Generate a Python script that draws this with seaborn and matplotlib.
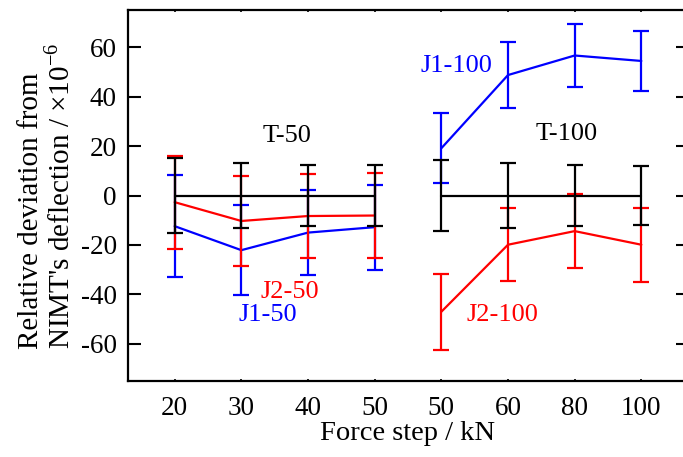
import matplotlib
matplotlib.use("Agg")
import matplotlib.pyplot as plt
import seaborn as sns
import numpy as np
import pandas as pd

# categories on the x axis (two groups of force steps)
steps = ["20", "30", "40", "50", "50", "60", "80", "100"]
group = ["50", "50", "50", "50", "100", "100", "100", "100"]

# series values (relative deviation, x10^-6) and their uncertainties
t_val = [0, 0, 0, 0, 0, 0, 0, 0]
t_err = [15.0, 13.0, 12.3, 12.3, 14.3, 13.2, 12.2, 12.0]
j1_val = [-12.4, -22.1, -15.0, -12.8, 19.1, 48.7, 56.6, 54.4]
j1_err = [20.5, 18.3, 17.2, 17.2, 14.1, 13.3, 12.6, 12.3]
j2_val = [-2.7, -10.3, -8.3, -8.1, -47.0, -19.9, -14.4, -19.9]
j2_err = [18.8, 18.2, 16.9, 17.0, 15.3, 14.8, 15.1, 15.0]

sns.set_style("ticks")
plt.rcParams['font.family'] = ['Liberation Serif', 'DejaVu Serif']
plt.rcParams['mathtext.fontset'] = 'custom'
plt.rcParams['mathtext.rm'] = 'Liberation Serif'
for k in ['text.color', 'axes.labelcolor', 'xtick.color', 'ytick.color', 'axes.edgecolor']:
    plt.rcParams[k] = 'black'

rows = []
for name, vals, errs in [("J1", j1_val, j1_err), ("J2", j2_val, j2_err), ("T", t_val, t_err)]:
    for i, (v, e) in enumerate(zip(vals, errs)):
        rows.append({"pos": i, "step": steps[i], "group": group[i],
                     "series": name, "value": v, "err": e})
df = pd.DataFrame(rows)
df["line"] = df["series"] + "-" + df["group"]

colors = {"J1": "#0000ff", "J2": "#ff0000", "T": "#000000"}

fig = plt.figure(figsize=(6.83, 4.57), dpi=100)
ax = fig.add_axes([128 / 683, 76 / 457, 560 / 683, 371 / 457])

for name in ["J1", "J2", "T"]:
    sub = df[df["series"] == name]
    ax.errorbar(sub["pos"], sub["value"], yerr=sub["err"], fmt="none",
                ecolor=colors[name], elinewidth=1.6, capsize=5.5, capthick=1.6,
                zorder=3)
    sns.lineplot(data=sub, x="pos", y="value", units="line", estimator=None,
                 color=colors[name], linewidth=1.6, ax=ax, legend=False,
                 zorder=3)

labels = [("T-50", 1.68, 24, "k"), ("J2-50", 1.72, -39, "#ff0000"),
          ("J1-50", 1.39, -48.5, "#0000ff"), ("J1-100", 4.22, 52.3, "#0000ff"),
          ("T-100", 5.88, 25, "k"), ("J2-100", 4.91, -48.3, "#ff0000")]
for txt, x, y, c in labels:
    ax.text(x, y, txt, color=c, fontsize=19, ha="center", va="center")

ax.set_xlim(-0.7, 7.7)
ax.set_ylim(-75, 75)
ax.set_xticks(range(len(steps)))
ax.set_xticklabels(steps)
ax.set_yticks([-60, -40, -20, 0, 20, 40, 60])
ax.set_yticklabels(["-60", "-40", "-20", "0", "20", "40", "60"])
ax.tick_params(axis="y", direction="in", length=9, width=1.5, left=True,
               right=True, labelsize=19.5, pad=8, colors="black")
ax.tick_params(axis="x", direction="in", length=1.5, width=1.2, top=True,
               labelsize=19.5, pad=11, colors="black")
for s in ["left", "bottom", "top", "right"]:
    ax.spines[s].set_linewidth(1.6)
    ax.spines[s].set_color("k")
ax.spines["right"].set_visible(False)

ax.set_xlabel("Force step / kN", fontsize=20.5, labelpad=0, color="black")
ax.set_ylabel("Relative deviation from\nNIMT's deflection / ×10$^{\\mathrm{-6}}$",
              fontsize=21, labelpad=4, linespacing=1.05, color="black",
              multialignment="left")

fig.savefig("out.png", dpi=100)
